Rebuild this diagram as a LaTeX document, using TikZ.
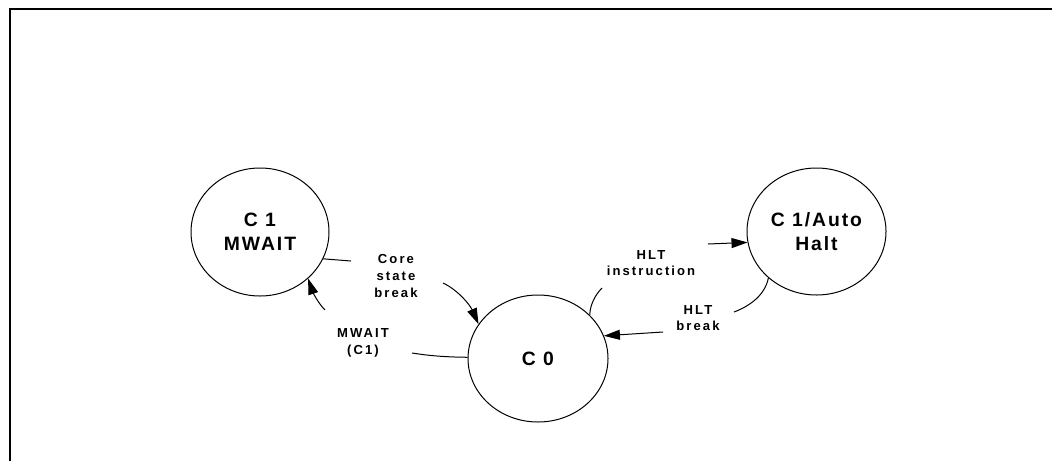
\documentclass[tikz,border=0pt]{standalone}
\usepackage{fontspec}
\setmainfont{Liberation Sans}
\newfontfamily\statefont[LetterSpace=10]{Liberation Sans}
\newfontfamily\lblfont[LetterSpace=16]{Liberation Sans}
\usetikzlibrary{shapes.geometric,arrows.meta}
\tikzset{
  state/.style={ellipse, draw, line width=0.75pt, minimum width=103.5pt,
    minimum height=96pt, inner sep=0pt, align=center,
    font=\statefont\bfseries\fontsize{14.5}{18.2}\selectfont},
  lbl/.style={align=center, inner sep=0pt,
    font=\lblfont\bfseries\fontsize{9.8}{12.4}\selectfont},
  conn/.style={line width=0.75pt},
  arr/.style={conn, -{Triangle[length=12pt,width=7.5pt]}},
  frameline/.style={line width=1.5pt},
}
\begin{document}
\begin{tikzpicture}[x=0.75pt,y=-0.75pt]
\useasboundingbox (0,0) rectangle (1052,461);
\draw[frameline] (10,461) -- (10,9.3) -- (1052,9.3);
% states
\node[state] (c1) at (260,232) {C 1\\MWAIT};
\node[state, minimum width=104.25pt, minimum height=95.25pt] (ah) at (816.5,231.5) {C 1/Auto\\Halt};
\node[state, minimum width=105pt, minimum height=95.25pt] (c0) at (538,358.5) {C 0};
% labels
\node[lbl] (lcore) at (396,276) {Core\\state\\break};
\node[lbl] (lmw) at (363,343) {MWAIT\\(C1)};
\node[lbl] (lhi) at (651,263) {HLT\\instruction};
\node[lbl] (lhb) at (698,318) {HLT\\break};
% connectors
\draw[arr] (c1.-23) -- (351,261) (443,283) .. controls (458,290) and (470,305) .. (c0.150);
\draw[arr] (c0.179) .. controls (440,357) and (425,355) .. (412,353)
  (325,310) .. controls (317,302) and (312,290) .. (c1.-44);
\draw[arr] (c0.40) .. controls (590,305) and (595,295) .. (602,288)
  (708,244) -- (ah.-171);
\draw[arr] (ah.-136) .. controls (765,295) and (750,306) .. (734,312)
  (663,332) -- (c0.19);
\end{tikzpicture}
\end{document}
